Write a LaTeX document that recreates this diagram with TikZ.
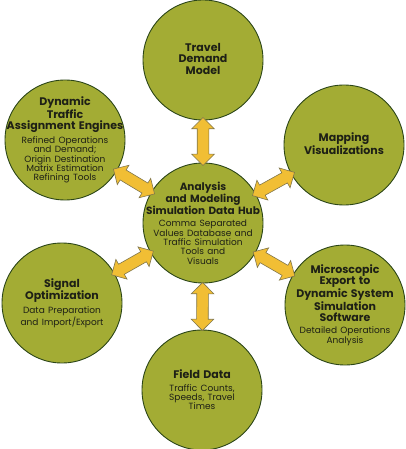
\documentclass[tikz,border=0pt]{standalone}
\usepackage{fontspec}
\setmainfont{Poppins}
\usetikzlibrary{shapes.arrows}
\definecolor{bubblefill}{RGB}{163,172,52}
\definecolor{bubbleline}{RGB}{44,70,24}
\definecolor{arrowfill}{RGB}{241,190,52}
\definecolor{arrowline}{RGB}{128,118,76}
\definecolor{textdark}{RGB}{30,32,22}
\tikzset{
  bubble/.style={circle,draw=bubbleline,fill=bubblefill,line width=0.9pt,minimum size=120pt,inner sep=0pt},
  txt/.style={align=center,text width=118pt,inner sep=0pt,text=textdark},
  link/.style={double arrow,draw=arrowline,fill=arrowfill,line width=0.6pt,inner xsep=0pt,inner ysep=5.5pt,
    double arrow head extend=5.5pt,minimum height=48pt,sloped}
}
\newcommand*{\hd}[1]{{\fontsize{11}{11.5}\selectfont\bfseries #1\par}\vspace{3pt}}
\newcommand*{\bd}[1]{{\fontsize{9}{9.3}\selectfont #1\par}}

\begin{document}
\begin{tikzpicture}[x=1pt,y=-1pt]
\useasboundingbox (0,0) rectangle (405,449);
% Bubbles
\node[bubble] (hub) at (203,223) {};
\node[bubble] (trav) at (203,60) {};
\node[bubble] (map) at (344,145) {};
\node[bubble] (dyn) at (65,140) {};
\node[bubble] (sig) at (62,303) {};
\node[bubble] (mic) at (345,305) {};
\node[bubble] (fld) at (202,390) {};

% Double arrows between hub and bubbles
\foreach \b/\l in {trav/ltrav,map/lmap,dyn/ldyn,sig/lsig,mic/lmic,fld/lfld}
  \path (hub) -- node[link] (\l) {} (\b);

% Texts
\node[txt] (hubtxt) at (hub) {{\fontsize{10.5}{10.3}\selectfont\bfseries Analysis\\and Modeling\\Simulation Data Hub\par}\vspace{3pt}
  \bd{Comma Separated\\Values Database and\\Traffic Simulation\\Tools and\\Visuals}};
\node[txt] (travtxt) at (trav) {\hd{Travel\\Demand\\Model}};
\node[txt] (maptxt) at (map) {\hd{Mapping\\Visualizations}};
\node[txt] (dyntxt) at (dyn) {\hd{Dynamic\\Traffic\\Assignment Engines}
  \bd{Refined Operations\\and Demand;\\Origin Destination\\Matrix Estimation\\Refining Tools}};
\node[txt] (sigtxt) at (sig) {\hd{Signal\\Optimization}
  \bd{Data Preparation\\and Import/Export}};
\node[txt] (mictxt) at (mic) {\hd{Microscopic\\Export to\\Dynamic System\\Simulation\\Software}
  \bd{Detailed Operations\\Analysis}};
\node[txt] (fldtxt) at (fld) {\hd{Field Data}
  \bd{Traffic Counts,\\Speeds, Travel\\Times}};
\end{tikzpicture}
\end{document}
